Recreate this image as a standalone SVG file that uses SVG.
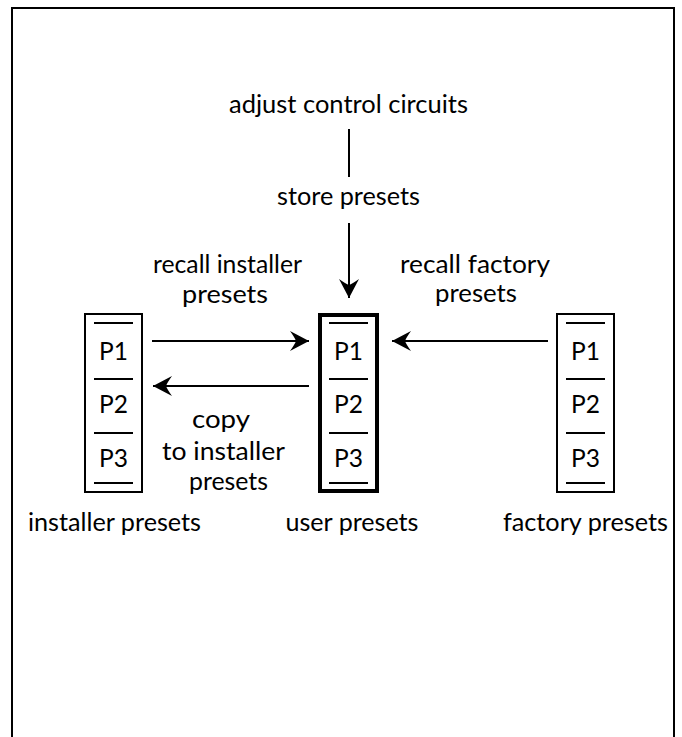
<svg xmlns="http://www.w3.org/2000/svg" width="682" height="737" viewBox="0 0 682 737">
<style>
text{font-family:Lato,"Liberation Sans",sans-serif;font-size:24.5px;fill:#000;text-anchor:middle}
.box{fill:none;stroke:#000;stroke-width:2}
.thick{stroke-width:4}
.sep{stroke:#000;stroke-width:2}
.conn{fill:none;stroke:#000;stroke-width:2}
</style>
<defs>
<marker id="ah" viewBox="-20 -11 22 22" refX="0" refY="0" markerWidth="22" markerHeight="22" markerUnits="userSpaceOnUse" orient="auto">
<path d="M0,0 L-19,-10 Q-14,-3 -13,0 Q-14,3 -19,10 Z" fill="#000"/>
</marker>
</defs>
<rect x="0" y="0" width="682" height="737" fill="#fff"/>
<rect x="12" y="8" width="662" height="800" fill="none" stroke="#000" stroke-width="2"/>

<g id="installer">
<rect class="box" x="85" y="314" width="57" height="178"/>
<line class="sep" x1="94" y1="323" x2="133" y2="323"/>
<line class="sep" x1="94" y1="379" x2="133" y2="379"/>
<line class="sep" x1="94" y1="433" x2="133" y2="433"/>
<line class="sep" x1="94" y1="483" x2="133" y2="483"/>
<text x="113.5" y="360">P1</text>
<text x="113.5" y="413">P2</text>
<text x="113.5" y="467">P3</text>
<text x="114.5" y="531" textLength="173" lengthAdjust="spacingAndGlyphs">installer presets</text>
</g>

<g id="user">
<rect class="box thick" x="320" y="315" width="57" height="176"/>
<line class="sep" x1="329" y1="323" x2="368" y2="323"/>
<line class="sep" x1="329" y1="379" x2="368" y2="379"/>
<line class="sep" x1="329" y1="433" x2="368" y2="433"/>
<line class="sep" x1="329" y1="483" x2="368" y2="483"/>
<text x="348.5" y="360">P1</text>
<text x="348.5" y="413">P2</text>
<text x="348.5" y="467">P3</text>
<text x="352" y="531" textLength="133" lengthAdjust="spacingAndGlyphs">user presets</text>
</g>

<g id="factory">
<rect class="box" x="557" y="314" width="57" height="178"/>
<line class="sep" x1="566" y1="323" x2="605" y2="323"/>
<line class="sep" x1="566" y1="379" x2="605" y2="379"/>
<line class="sep" x1="566" y1="433" x2="605" y2="433"/>
<line class="sep" x1="566" y1="483" x2="605" y2="483"/>
<text x="585.5" y="360">P1</text>
<text x="585.5" y="413">P2</text>
<text x="585.5" y="467">P3</text>
<text x="585.5" y="531" textLength="165" lengthAdjust="spacingAndGlyphs">factory presets</text>
</g>

<g id="adjust">
<text x="348.5" y="113" textLength="239" lengthAdjust="spacingAndGlyphs">adjust control circuits</text>
</g>

<g id="connectors">
<line class="conn" x1="349" y1="129" x2="349" y2="177"/>
<line class="conn" x1="349" y1="223" x2="349" y2="298" marker-end="url(#ah)"/>
<line class="conn" x1="152" y1="341" x2="309" y2="341" marker-end="url(#ah)"/>
<line class="conn" x1="309" y1="386" x2="153" y2="386" marker-end="url(#ah)"/>
<line class="conn" x1="548" y1="341" x2="392" y2="341" marker-end="url(#ah)"/>
</g>

<g id="labels">
<text x="348.5" y="205" textLength="143" lengthAdjust="spacingAndGlyphs">store presets</text>
<text x="227.5" y="273" textLength="149" lengthAdjust="spacingAndGlyphs">recall installer</text>
<text x="225" y="303" textLength="86" lengthAdjust="spacingAndGlyphs">presets</text>
<text x="475" y="273" textLength="150" lengthAdjust="spacingAndGlyphs">recall factory</text>
<text x="476" y="302" textLength="82" lengthAdjust="spacingAndGlyphs">presets</text>
<text x="221" y="428" textLength="58" lengthAdjust="spacingAndGlyphs">copy</text>
<text x="223.5" y="460" textLength="123" lengthAdjust="spacingAndGlyphs">to installer</text>
<text x="228.5" y="490" textLength="79" lengthAdjust="spacingAndGlyphs">presets</text>
</g>
</svg>
